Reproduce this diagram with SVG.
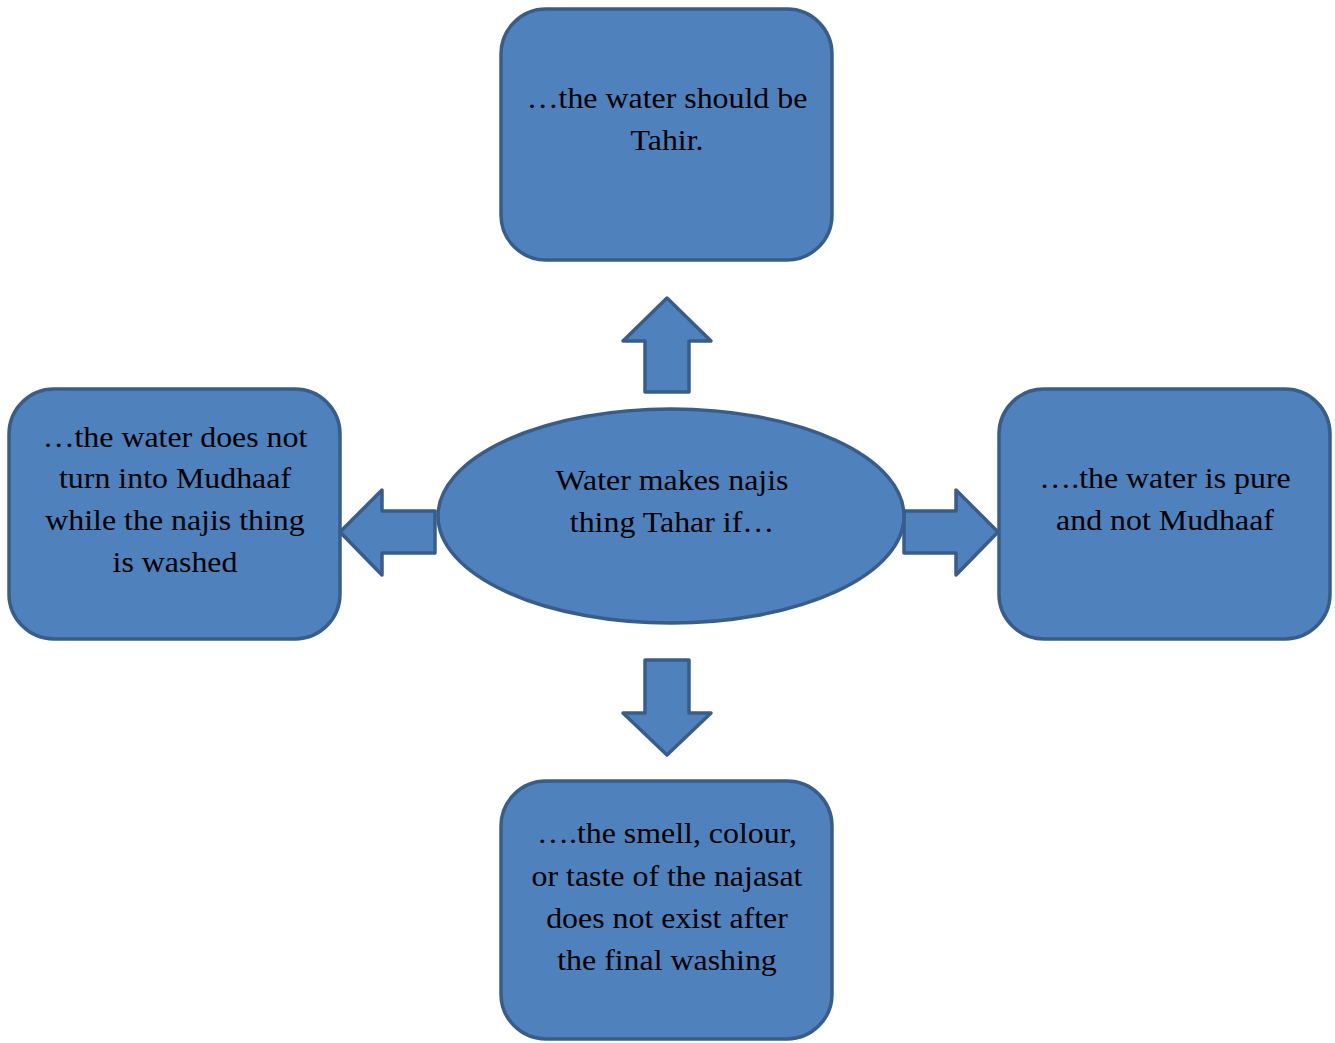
<svg xmlns="http://www.w3.org/2000/svg" width="1335" height="1043" viewBox="0 0 1335 1043">
<style>
.shape{fill:#4F81BD;stroke:#385D8A;stroke-width:3.5;stroke-linejoin:round}
.t{font-family:"Liberation Serif","Times New Roman",serif;font-size:29px;fill:#000;text-anchor:middle}
</style>
<rect width="1335" height="1043" fill="#fff"/>
<g id="connectors">
<polygon class="shape" points="667,298 711,341 689,341 689,392 645,392 645,341 623,341"/>
<polygon class="shape" points="667,755 711,713 689,713 689,660 645,660 645,713 623,713"/>
<polygon class="shape" points="340,532 382,490 382,511 435,511 435,553 382,553 382,575"/>
<polygon class="shape" points="998,532 956,490 956,511 904,511 904,553 956,553 956,575"/>
</g>
<g id="center">
<ellipse class="shape" cx="671" cy="516" rx="233" ry="107"/>
<g transform="matrix(1.1 0 0 1 672 0)">
<text class="t" x="0" y="490">Water makes najis</text>
<text class="t" x="0" y="532">thing Tahar if…</text>
</g>
</g>
<g id="top">
<rect class="shape" x="501" y="9" width="331" height="251" rx="45"/>
<g transform="matrix(1.1 0 0 1 667 0)">
<text class="t" x="0" y="108">…the water should be</text>
<text class="t" x="0" y="150">Tahir.</text>
</g>
</g>
<g id="left">
<rect class="shape" x="9" y="389" width="331" height="250" rx="45"/>
<g transform="matrix(1.1 0 0 1 175 0)">
<text class="t" x="0" y="447">…the water does not</text>
<text class="t" x="0" y="488">turn into Mudhaaf</text>
<text class="t" x="0" y="530">while the najis thing</text>
<text class="t" x="0" y="572">is washed</text>
</g>
</g>
<g id="right">
<rect class="shape" x="999" y="389" width="331" height="250" rx="45"/>
<g transform="matrix(1.1 0 0 1 1165 0)">
<text class="t" x="0" y="488">….the water is pure</text>
<text class="t" x="0" y="530">and not Mudhaaf</text>
</g>
</g>
<g id="bottom">
<rect class="shape" x="501" y="781" width="331" height="258" rx="45"/>
<g transform="matrix(1.1 0 0 1 667 0)">
<text class="t" x="0" y="843">….the smell, colour,</text>
<text class="t" x="0" y="886">or taste of the najasat</text>
<text class="t" x="0" y="928">does not exist after</text>
<text class="t" x="0" y="970">the final washing</text>
</g>
</g>
</svg>
